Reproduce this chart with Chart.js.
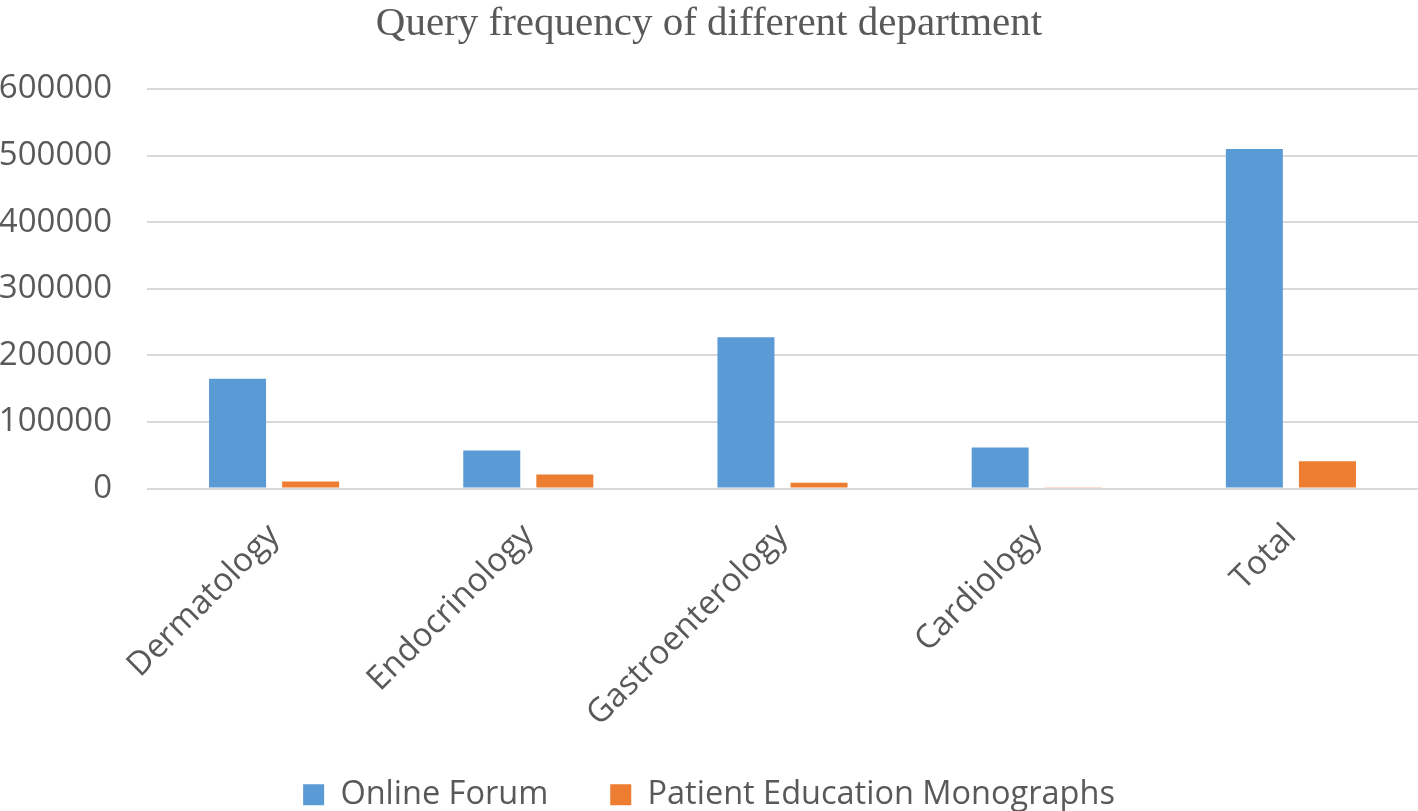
<!DOCTYPE html>
<html>
<head>
<meta charset="utf-8">
<script src="https://cdn.jsdelivr.net/npm/chart.js@4.4.1/dist/chart.umd.min.js"></script>
<style>
  html, body { margin: 0; padding: 0; background: #ffffff; }
  #wrap { width: 1418px; height: 811px; position: relative; }
</style>
</head>
<body>
<div id="wrap"><canvas id="c"></canvas></div>
<script>
const categories = ["Dermatology", "Endocrinology", "Gastroenterology", "Cardiology", "Total"];
const onlineForum = [165000, 57000, 227000, 61500, 510000];
const patientEducation = [10500, 21000, 8500, 1000, 41000];
const seriesNames = ["Online Forum", "Patient Education Monographs"];
const yTicks = [0, 100000, 200000, 300000, 400000, 500000, 600000];

const textColor = "#595959";
const gridColor = "#d9d9d9";
const LEG_PAD = 62;

new Chart(document.getElementById("c"), {
  type: "bar",
  data: {
    labels: categories,
    datasets: [
      { label: seriesNames[0], data: onlineForum, backgroundColor: "#5b9bd5",
        categoryPercentage: 0.575, barPercentage: 0.78 },
      { label: seriesNames[1], data: patientEducation, backgroundColor: "#ed7d31",
        categoryPercentage: 0.575, barPercentage: 0.78 }
    ]
  },
  options: {
    responsive: true,
    maintainAspectRatio: false,
    animation: false,
    layout: { padding: { left: 0, right: 0, top: 0, bottom: -10 } },
    plugins: {
      title: {
        display: true,
        text: "Query frequency of different department",
        color: textColor,
        font: { family: "'Liberation Serif', 'DejaVu Serif', serif", size: 41, weight: "normal", lineHeight: 1.2 },
        padding: { top: 0, bottom: 39.8 }
      },
      legend: {
        position: "bottom",
        labels: {
          color: textColor,
          font: { family: "'Open Sans', sans-serif", size: 32.5 },
          boxWidth: 21,
          boxHeight: 21,
          padding: LEG_PAD
        }
      },
      tooltip: { enabled: false }
    },
    scales: {
      x: {
        grid: { display: false },
        border: { display: false },
        ticks: {
          color: textColor,
          font: { family: "'Open Sans', sans-serif", size: 33 },
          maxRotation: 45,
          minRotation: 45,
          padding: 20
        },
        afterFit: (s) => {
          s.height = 228;
          s._computeLabelArea = () => null;
        }
      },
      y: {
        min: 0,
        max: 600000,
        afterBuildTicks: (s) => { s.ticks = yTicks.map(v => ({ value: v })); },
        grid: { color: gridColor, lineWidth: 2, drawTicks: false },
        border: { display: false },
        ticks: {
          color: textColor,
          font: { family: "'Open Sans', sans-serif", size: 33 },
          padding: 35,
          callback: (v) => String(v)
        },
        afterFit: (s) => { s.width = 147; }
      }
    }
  }
});
</script>
</body>
</html>
